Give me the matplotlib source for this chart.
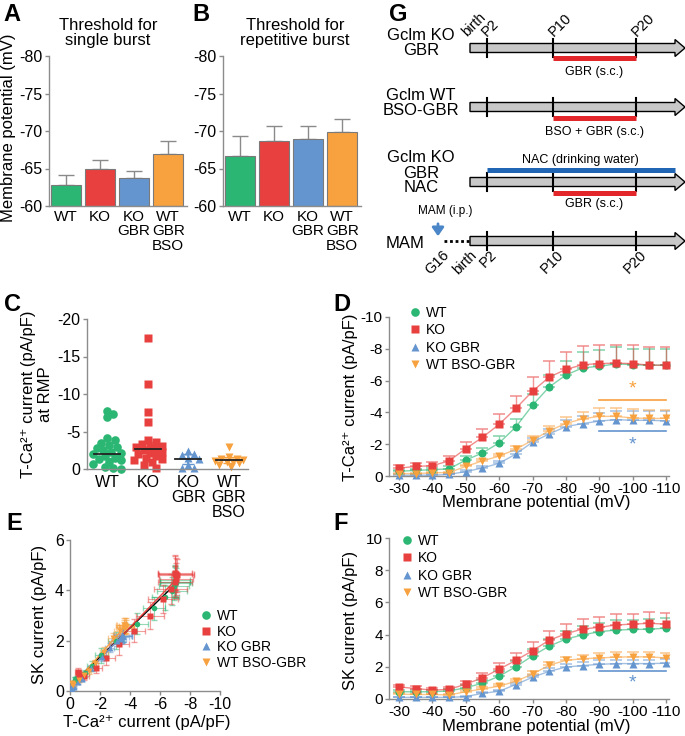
import numpy as np
import matplotlib
matplotlib.use("Agg")
import matplotlib.pyplot as plt
from matplotlib.patches import Polygon, FancyArrowPatch
from matplotlib.lines import Line2D

plt.rcParams['font.family'] = ['Liberation Sans', 'DejaVu Sans']
plt.rcParams['axes.unicode_minus'] = False

# ---- data ----
groups = ["WT", "KO", "KO GBR", "WT BSO-GBR"]
bar_labels = ["WT", "KO", "KO\nGBR", "WT\nGBR\nBSO"]
colors = ["#2bb673", "#e8403f", "#6495cf", "#f7a13f"]

single_burst = [-62.8, -64.9, -63.7, -67.0]
single_burst_sem = [1.4, 1.3, 0.95, 1.65]
rep_burst = [-66.65, -68.7, -68.95, -69.85]
rep_burst_sem = [2.65, 2.0, 1.7, 1.8]

# T-Ca2+ current at RMP (pA/pF)
c_wt = [-7.3, -6.9, -7.8, -4.1, -3.9, -3.5, -3.2, -3.0, -2.8, -2.6, -2.3,
        -2.0, -1.8, -1.5, -1.3, -1.0, -0.7, -0.3, -0.05, -0.1, -2.2, -1.2]
c_ko = [-17.5, -11.3, -7.6, -6.3, -3.9, -3.6, -3.3, -3.0, -2.9, -2.7, -2.5,
        -2.3, -2.0, -1.8, -1.5, -1.2, -0.9, -0.6, -0.1, -3.1, -2.2, -1.4]
c_kogbr = [-2.4, -2.0, -1.9, -1.5, -1.3, -0.6, -0.2, -0.1]
c_wtbso = [-3.0, -1.6, -1.4, -1.2, -1.1, -1.0, -0.9, -0.8, -0.6, -0.3, -1.3]
c_center = [-2.0, -2.7, -1.35, -1.15]
c_err = [0.5, 0.9, 0.65, 0.4]

mv = [-30, -35, -40, -45, -50, -55, -60, -65, -70, -75, -80, -85, -90, -95, -100, -105, -110]

# T-Ca2+ current vs membrane potential
d_wt = [-0.30, -0.35, -0.40, -0.45, -1.00, -1.45, -2.08, -3.08, -4.45, -5.60, -6.35, -6.80, -6.90, -7.05, -7.00, -6.97, -6.97]
d_wt_sem = [0.10, 0.10, 0.10, 0.15, 0.25, 0.30, 0.42, 0.52, 0.72, 0.75, 0.90, 1.00, 1.00, 1.05, 1.00, 1.00, 1.00]
d_ko = [-0.50, -0.60, -0.65, -0.95, -1.72, -2.43, -3.25, -4.25, -5.33, -6.22, -6.70, -7.00, -7.07, -7.10, -7.07, -6.97, -6.97]
d_ko_sem = [0.20, 0.20, 0.20, 0.30, 0.40, 0.55, 0.65, 0.78, 0.92, 1.00, 1.08, 1.15, 1.15, 1.15, 1.18, 1.13, 1.13]
d_kogbr = [-0.05, -0.05, -0.05, -0.10, -0.28, -0.50, -0.80, -1.38, -2.13, -2.65, -3.10, -3.30, -3.45, -3.55, -3.50, -3.50, -3.47]
d_kogbr_sem = [0.05, 0.05, 0.05, 0.05, 0.10, 0.10, 0.15, 0.20, 0.25, 0.30, 0.40, 0.45, 0.50, 0.55, 0.60, 0.60, 0.60]
d_wtbso = [-0.15, -0.15, -0.20, -0.22, -0.60, -0.95, -1.25, -1.68, -2.25, -2.85, -3.30, -3.60, -3.75, -3.75, -3.65, -3.62, -3.62]
d_wtbso_sem = [0.05, 0.05, 0.05, 0.05, 0.10, 0.12, 0.15, 0.20, 0.25, 0.30, 0.40, 0.45, 0.50, 0.50, 0.55, 0.55, 0.55]

# SK current vs membrane potential
f_wt = [0.45, 0.45, 0.45, 0.50, 0.70, 0.98, 1.42, 2.00, 2.68, 3.28, 3.72, 3.98, 4.18, 4.28, 4.32, 4.33, 4.40]
f_wt_sem = [0.10, 0.10, 0.10, 0.10, 0.15, 0.20, 0.30, 0.35, 0.40, 0.45, 0.50, 0.55, 0.55, 0.60, 0.60, 0.62, 0.62]
f_ko = [0.75, 0.65, 0.55, 0.60, 0.92, 1.32, 1.85, 2.40, 3.00, 3.65, 4.05, 4.35, 4.45, 4.60, 4.65, 4.70, 4.65]
f_ko_sem = [0.15, 0.15, 0.15, 0.15, 0.20, 0.30, 0.40, 0.45, 0.55, 0.55, 0.60, 0.60, 0.65, 0.65, 0.65, 0.70, 0.70]
f_kogbr = [0.10, 0.10, 0.10, 0.10, 0.15, 0.35, 0.48, 0.90, 1.35, 1.72, 1.98, 2.08, 2.15, 2.20, 2.20, 2.20, 2.22]
f_kogbr_sem = [0.05, 0.05, 0.05, 0.05, 0.05, 0.08, 0.10, 0.12, 0.15, 0.18, 0.20, 0.22, 0.25, 0.25, 0.25, 0.25, 0.25]
f_wtbso = [0.30, 0.28, 0.28, 0.25, 0.45, 0.62, 0.80, 1.10, 1.55, 2.10, 2.40, 2.50, 2.55, 2.60, 2.62, 2.62, 2.55]
f_wtbso_sem = [0.05, 0.05, 0.05, 0.05, 0.08, 0.10, 0.12, 0.15, 0.18, 0.20, 0.22, 0.25, 0.28, 0.30, 0.30, 0.28, 0.28]

# significance bars span -90..-110 mV
sig_range = [-90, -110]

# timeline schematic (days after birth)
ticks_days = [2, 10, 20]
ticks_names = ["P2", "P10", "P20"]
gbr_days = [10, 20]
nac_days = [2, 24.7]

W, H = 685, 736
fig = plt.figure(figsize=(W / 100, H / 100), dpi=100)

SPINE = "#8c8c8c"
FS = 12
TCA = "T-Ca²⁺ current (pA/pF)"


def add_ax(l, t, r, b):
    return fig.add_axes([l / W, 1 - b / H, (r - l) / W, (b - t) / H])


def style(ax, fs=11.5):
    for s in ["top", "right"]:
        ax.spines[s].set_visible(False)
    for s in ["left", "bottom"]:
        ax.spines[s].set_color(SPINE)
        ax.spines[s].set_linewidth(1.0)
    ax.tick_params(colors=SPINE, labelcolor="black", labelsize=fs, length=3, width=1, pad=1.5)


def ftext(x, y, s, **kw):
    fig.text(x / W, 1 - y / H, s, **kw)


markers = ["o", "s", "^", "v"]

# ---- A & B: bar charts ----
for (l, r), vals, sems, title, tx in [((49, 187), single_burst, single_burst_sem, "Threshold for\nsingle burst", 108),
                                     ((223, 361), rep_burst, rep_burst_sem, "Threshold for\nrepetitive burst", 295)]:
    ax = add_ax(l, 56, r, 206)
    style(ax, 11.5)
    x = np.arange(len(vals))
    base = -60
    ax.bar(x, np.array(vals) - base, bottom=base, width=0.88, color=colors, edgecolor="#7a7a7a", linewidth=0.8, zorder=2)
    ax.errorbar(x, vals, yerr=[sems, np.zeros(len(sems))], fmt="none", ecolor="#8a8a8a", elinewidth=1.0, capsize=5.5, capthick=1.0, zorder=1)
    ax.set_xlim(-0.5, len(vals) - 0.45)
    ax.set_ylim(-60, -80)
    ax.set_yticks([-80, -75, -70, -65, -60])
    ax.set_xticks(x)
    ax.set_xticklabels(bar_labels, fontsize=11, linespacing=1.02)
    ax.tick_params(axis="x", length=0, pad=3)
    ftext(tx, 33, title, ha="center", va="center", fontsize=FS, linespacing=1.0)

ftext(9, 128, "Membrane potential (mV)", rotation=90, ha="center", va="center", fontsize=FS)


# ---- C: scatter ----
def swarm(vals, diam=6.5, xs=40.6, ys=7.5, step=0.05, limit=0.36):
    vals = np.asarray(vals, dtype=float)
    offs = np.zeros(len(vals))
    placed = []
    n = int(limit / step)
    cands = [0.0]
    for k in range(1, n + 1):
        cands += [k * step, -k * step]
    for i in np.argsort(vals):
        best, best_d = 0.0, -1
        for cand in cands:
            d = min([np.hypot((cand - ox) * xs, (vals[i] - oy) * ys) for ox, oy in placed] or [99])
            if d >= diam:
                best = cand
                break
            if d > best_d:
                best, best_d = cand, d
        offs[i] = best
        placed.append((best, vals[i]))
    return offs


ax = add_ax(87, 319, 248, 469)
style(ax, 11.5)
for i, vals in enumerate([c_wt, c_ko, c_kogbr, c_wtbso]):
    pos = i + 1 + swarm(vals)
    ax.errorbar(i + 1, c_center[i], yerr=c_err[i], fmt="none", ecolor=colors[i], elinewidth=1.2, capsize=4, zorder=1)
    ax.plot(pos, vals, ls="none", marker=markers[i], ms=6.2 if i != 1 else 6.0, color=colors[i], mec="none", clip_on=False, zorder=2)
    ax.plot([i + 1 - 0.32, i + 1 + 0.32], [c_center[i]] * 2, color="#222222", lw=1.3, zorder=3)
ax.set_xlim(0.5, 4.47)
ax.set_ylim(0, -20)
ax.set_yticks([0, -5, -10, -15, -20])
ax.set_xticks([1, 2, 3, 4])
ax.set_xticklabels(bar_labels, fontsize=11.5, linespacing=1.0)
ax.tick_params(axis="x", length=0, pad=4)
ftext(37, 394, TCA + "\nat RMP", rotation=90, ha="center", va="center", fontsize=FS, linespacing=1.15)

# ---- D & F: I-V curves ----
d_sets = [(d_wt, d_wt_sem), (d_ko, d_ko_sem), (d_kogbr, d_kogbr_sem), (d_wtbso, d_wtbso_sem)]
f_sets = [(f_wt, f_wt_sem), (f_ko, f_ko_sem), (f_kogbr, f_kogbr_sem), (f_wtbso, f_wtbso_sem)]


def iv_panel(top, bottom, sets, negative, ylim, yticks, leg_top, leg_left):
    ax = add_ax(389, top, 669, bottom)
    style(ax, 11)
    handles = []
    for i, (vals, sem) in enumerate(sets):
        sem = np.array(sem)
        err = [sem, np.zeros_like(sem)] if negative else [np.zeros_like(sem), sem]
        ax.errorbar(mv, vals, yerr=err, fmt="none", ecolor=colors[i], alpha=0.55, elinewidth=1.0, capsize=4.5, capthick=1.2, zorder=1)
        ax.plot(mv, vals, "-", color=colors[i], lw=1.0, alpha=0.6, zorder=2)
        ax.plot(mv, vals, ls="none", marker=markers[i], ms=6.2 if i == 1 else 5.8, color=colors[i], mec="none", clip_on=False, zorder=3)
        handles.append(Line2D([], [], ls="none", marker=markers[i], ms=6.2, color=colors[i], mec="none"))
    ax.set_xlim(-27, -110.9)
    ax.set_ylim(*ylim)
    ax.set_yticks(yticks)
    ax.set_xticks([-30, -40, -50, -60, -70, -80, -90, -100, -110])
    ax.tick_params(axis="x", pad=1)
    ax.legend(handles, groups, loc="upper left", bbox_to_anchor=(leg_left / W, 1 - leg_top / H), bbox_transform=fig.transFigure,
              frameon=False, fontsize=10, handlelength=0.8, handletextpad=0.45, labelspacing=0.24, borderpad=0, borderaxespad=0)
    return ax


ax = iv_panel(317, 476, d_sets, True, (0, -10), [0, -2, -4, -6, -8, -10], 306, 409)
ax.plot(sig_range, [-4.75, -4.75], color=colors[3], lw=1.2)
ax.text(-100, -4.95, "*", color=colors[3], ha="center", va="bottom", fontsize=14)
ax.plot(sig_range, [-2.8, -2.8], color=colors[2], lw=1.2)
ax.text(-100, -2.5, "*", color=colors[2], ha="center", va="top", fontsize=14)
ftext(350, 397, TCA, rotation=90, ha="center", va="center", fontsize=FS)
ftext(536, 503, "Membrane potential (mV)", ha="center", va="center", fontsize=FS)

ax = iv_panel(538, 699, f_sets, False, (0, 10), [0, 2, 4, 6, 8, 10], 534, 401)
ax.plot(sig_range, [1.75, 1.75], color=colors[2], lw=1.2)
ax.text(-100, 1.5, "*", color=colors[2], ha="center", va="top", fontsize=14)
ftext(351, 620, "SK current (pA/pF)", rotation=90, ha="center", va="center", fontsize=FS)
ftext(536, 727, "Membrane potential (mV)", ha="center", va="center", fontsize=FS)

# ---- E: SK vs T-Ca ----
ax = add_ax(70, 540, 220, 691)
style(ax, 11.5)
handles = []
for i in range(4):
    xv, xs_ = d_sets[i]
    yv, ys_ = f_sets[i]
    ax.errorbar(xv, yv, xerr=xs_, yerr=ys_, fmt="none", ecolor=colors[i], alpha=0.5, elinewidth=0.8, capsize=2, zorder=1)
    ax.plot(xv, yv, ls="none", marker=markers[i], ms=4, color=colors[i], mec="none", zorder=3)
    k, b0 = np.polyfit(xv, yv, 1)
    xx = np.array([min(xv), max(xv)])
    ax.plot(xx, k * xx + b0, color="black" if i == 0 else colors[i], lw=1.0, zorder=2)
    handles.append(Line2D([], [], ls="none", marker=markers[i], ms=6.2, color=colors[i], mec="none"))
ax.set_xlim(0, -10)
ax.set_ylim(0, 6)
ax.set_xticks([0, -2, -4, -6, -8, -10])
ax.set_yticks([0, 2, 4, 6])
ax.tick_params(axis="x", pad=1)
ax.legend(handles, groups, loc="upper left", bbox_to_anchor=(200 / W, 1 - 609 / H), bbox_transform=fig.transFigure,
          frameon=False, fontsize=10, handlelength=0.8, handletextpad=0.45, labelspacing=0.12, borderpad=0, borderaxespad=0)
ftext(40, 614, "SK current (pA/pF)", rotation=90, ha="center", va="center", fontsize=FS)
ftext(147, 723, TCA, ha="center", va="center", fontsize=FS)

# ---- G: treatment timelines ----
gx = fig.add_axes([370 / W, 1 - 280 / H, (685 - 370) / W, 280 / H])
px_day = 8.3
gx.set_xlim((370 - 470) / px_day, (685 - 470) / px_day)
gx.set_ylim(280, 0)
gx.axis("off")

end_day = (685 - 470) / px_day
head = 10 / px_day


def timeline(y, labels_above=False, labels_below=False):
    body = 4.5
    hh = 8.5
    pts = [(0, y - body), (end_day - head, y - body), (end_day - head, y - hh), (end_day, y),
           (end_day - head, y + hh), (end_day - head, y + body), (0, y + body)]
    gx.add_patch(Polygon(pts, closed=True, facecolor="#c8c8c8", edgecolor="black", lw=1.0, zorder=2))
    for d in ticks_days:
        gx.plot([d, d], [y - 9, y + 9], color="black", lw=1.5, zorder=3)
    if labels_above:
        gx.text(-0.1, y - 9, "birth", rotation=45, rotation_mode="anchor", ha="left", va="bottom", fontsize=10)
        for d, n in zip(ticks_days, ticks_names):
            gx.text(d + 0.3, y - 9, n, rotation=45, rotation_mode="anchor", ha="left", va="bottom", fontsize=10.5)
    if labels_below:
        gx.text(0.0, y + 7, "birth", rotation=45, rotation_mode="anchor", ha="right", va="top", fontsize=10)
        for d, n in zip(ticks_days, ticks_names):
            gx.text(d + 0.4, y + 7, n, rotation=45, rotation_mode="anchor", ha="right", va="top", fontsize=10.5)


def bar(days, y, color, label, ly):
    gx.plot(days, [y, y], color=color, lw=3.6, solid_capstyle="butt", zorder=3)
    gx.text(np.mean(days), ly, label, ha="center", va="center", fontsize=9)


rows = [48, 107, 182, 241]
lab_x = (421 - 470) / px_day

timeline(rows[0], labels_above=True)
gx.text(lab_x, rows[0] - 5, "Gclm KO\nGBR", ha="center", va="center", fontsize=FS, linespacing=1.0)
bar(gbr_days, rows[0] + 10, "#e3262a", "GBR (s.c.)", rows[0] + 24)

timeline(rows[1])
gx.text(lab_x, rows[1] - 4, "Gclm WT\nBSO-GBR", ha="center", va="center", fontsize=FS, linespacing=1.0)
bar(gbr_days, rows[1] + 11, "#e3262a", "BSO + GBR (s.c.)", rows[1] + 25)

timeline(rows[2])
gx.text(lab_x, rows[2] - 9, "Gclm KO\nGBR\nNAC", ha="center", va="center", fontsize=FS, linespacing=1.0)
bar(nac_days, rows[2] - 12, "#2166b5", "NAC (drinking water)", rows[2] - 22)
bar(gbr_days, rows[2] + 11, "#e3262a", "GBR (s.c.)", rows[2] + 22)

timeline(rows[3], labels_below=True)
gx.text((405 - 470) / px_day, rows[3] + 2, "MAM", ha="center", va="center", fontsize=FS)
gx.plot([(444 - 470) / px_day, 0], [rows[3], rows[3]], color="black", lw=2, ls=(0, (1, 1)), zorder=1)
gx.add_patch(FancyArrowPatch(((438 - 470) / px_day, rows[3] - 20), ((438 - 470) / px_day, rows[3] - 2),
                             arrowstyle="-|>,head_length=5,head_width=3.5", color="#4a86c8", lw=2, mutation_scale=1))
gx.text((445 - 470) / px_day, rows[3] - 30, "MAM (i.p.)", ha="center", va="center", fontsize=8.5)
gx.text((442 - 470) / px_day, rows[3] + 7, "G16", rotation=45, rotation_mode="anchor", ha="right", va="top", fontsize=10.5)

# ---- panel letters ----
for s, x, y in [("A", 3, 3), ("B", 192, 3), ("G", 389, 3), ("C", 4, 293), ("D", 333, 293), ("E", 6, 512), ("F", 333, 512)]:
    ftext(x, y, s, fontsize=17, fontweight="bold", ha="left", va="top")

fig.savefig("out.png", dpi=100)
